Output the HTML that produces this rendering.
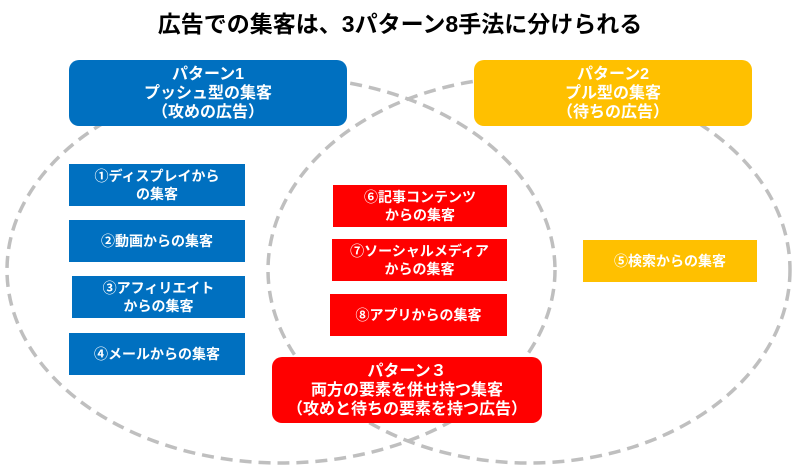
<!DOCTYPE html>
<html><head><meta charset="utf-8"><style>
body{margin:0;width:800px;height:475px;background:#fff;position:relative;overflow:hidden;font-family:"Liberation Sans","Noto Sans CJK JP",sans-serif;font-weight:bold}
.b{position:absolute;color:#fff;display:flex;align-items:center;justify-content:center;text-align:center;line-height:18px;font-size:14px}
.r{border-radius:10px;font-size:16px;line-height:19px}
.bl{background:#0070c0}.rd{background:#ff0000}.yl{background:#ffc000}
</style></head><body>
<div style="position:absolute;top:5px;left:0;width:800px;text-align:center;font-size:23px;color:#000">広告での集客は、3パターン8手法に分けられる</div>
<svg width="800" height="475" style="position:absolute;left:0;top:0">
<ellipse cx="281" cy="270" rx="274" ry="193" fill="none" stroke="#bfbfbf" stroke-width="3.5" stroke-dasharray="12 7"/>
<ellipse cx="529" cy="270" rx="261" ry="193" fill="none" stroke="#bfbfbf" stroke-width="3.5" stroke-dasharray="12 7"/>
</svg>
<div class="b r bl" style="left:69px;top:60px;width:278px;height:66px">パターン1<br>プッシュ型の集客<br>（攻めの広告）</div>
<div class="b r yl" style="left:474px;top:60px;width:278px;height:66px">パターン2<br>プル型の集客<br>（待ちの広告）</div>
<div class="b r rd" style="left:272px;top:357px;width:270px;height:66px">パターン３<br>両方の要素を併せ持つ集客<br>（攻めと待ちの要素を持つ広告）</div>
<div class="b bl" style="left:69px;top:164px;width:176px;height:42px">①ディスプレイから<br>の集客</div>
<div class="b bl" style="left:69px;top:220px;width:176px;height:42px">②動画からの集客</div>
<div class="b bl" style="left:72px;top:276px;width:173px;height:42px">③アフィリエイト<br>からの集客</div>
<div class="b bl" style="left:69px;top:333px;width:176px;height:42px">④メールからの集客</div>
<div class="b rd" style="left:333px;top:185px;width:174px;height:42px">⑥記事コンテンツ<br>からの集客</div>
<div class="b rd" style="left:332px;top:239px;width:175px;height:42px">⑦ソーシャルメディア<br>からの集客</div>
<div class="b rd" style="left:330px;top:294px;width:177px;height:42px">⑧アプリからの集客</div>
<div class="b yl" style="left:583px;top:240px;width:174px;height:42px">⑤検索からの集客</div>
</body></html>
